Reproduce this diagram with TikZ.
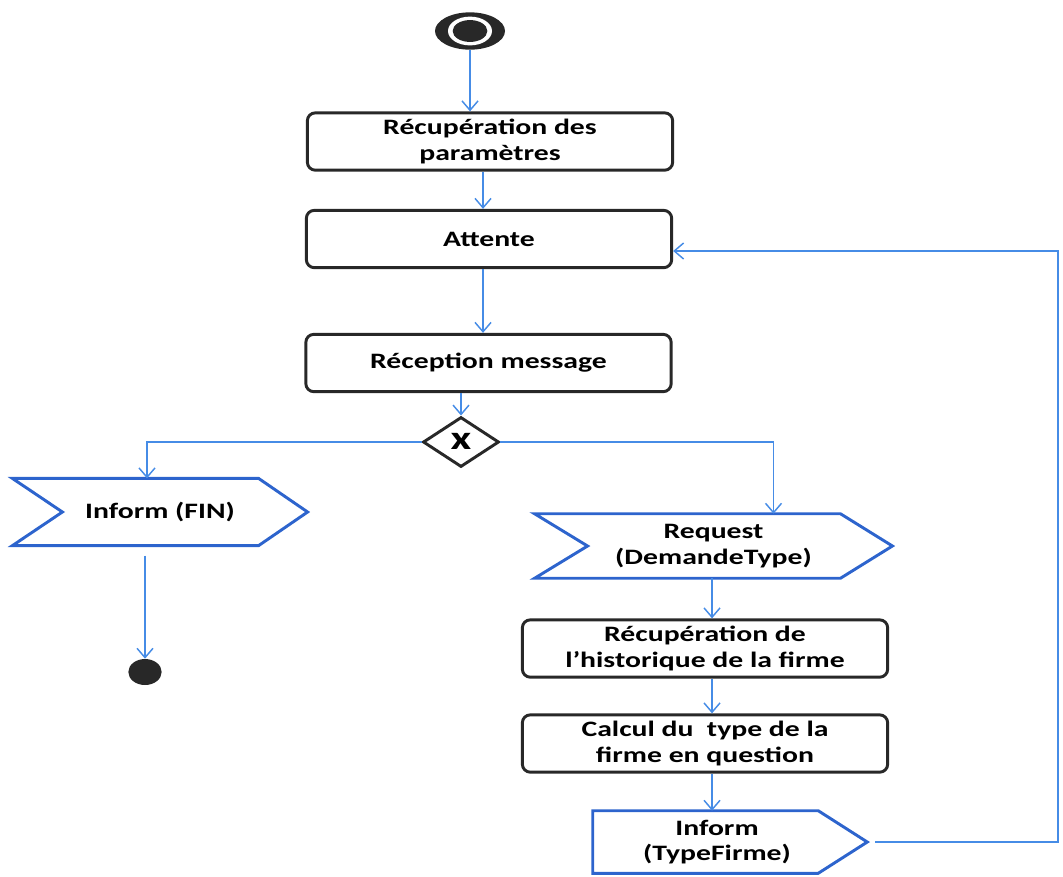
\documentclass[tikz,border=0pt]{standalone}
\usepackage{fontspec}
\setmainfont{Carlito}[FakeStretch=1.35]
\usepackage{tikz}
\usetikzlibrary{arrows.meta,positioning,calc,shapes.geometric}
\definecolor{ink}{RGB}{40,40,40}
\definecolor{lnk}{RGB}{70,140,230}
\definecolor{sig}{RGB}{45,100,205}
\tikzset{
  act/.style={draw=ink,line width=2.2pt,rounded corners=6pt,fill=white,align=center,
    minimum width=274pt,minimum height=43pt,inner sep=2pt},
  sigtxt/.style={align=center,inner sep=0pt},
  sigline/.style={draw=sig,line width=2.2pt,line join=miter},
  arr/.style={-{Straight Barb[length=7pt,width=12pt]},lnk,line width=1.1pt},
  gate/.style={diamond,draw=ink,line width=2.2pt,inner sep=0pt,minimum width=57pt,minimum height=37.5pt,
    font=\fontsize{25}{26}\selectfont\bfseries},
}
\begin{document}
\begin{tikzpicture}[x=0.75pt,y=-0.75pt,font=\fontsize{16.5}{19}\selectfont\bfseries]
  \useasboundingbox (0,0) rectangle (1063,876);
  % start / end
  \node[ellipse,fill=ink,minimum width=52.5pt,minimum height=28pt,inner sep=0pt] (start) at (470,31) {};
  \fill[white] (start.center) ellipse (16.5pt and 10.8pt);
  \fill[ink] (start.center) ellipse (13pt and 8.2pt);
  \node[ellipse,fill=ink,minimum width=25pt,minimum height=19.5pt,inner sep=0pt] (stop) at (145,672) {};
  % main column
  \node[act] (recup) at (490,141.5) {Récupération des\\paramètres};
  \node[act] (att) at (489,239) {Attente};
  \node[act] (recep) at (488.5,363) {Réception message};
  \node[gate] (gw) at (461,442) {\raisebox{1pt}{x}};
  \node[act] (hist) at (705,648.5) {Récupération de\\l’historique de la firme};
  \node[act] (calc) at (705,743.5) {Calcul du\ \ type de la\\firme en question};
  % signals
  \node[sigtxt,minimum width=221pt,minimum height=50pt] (fin) at (160,512) {Inform (FIN)};
  \draw[sigline] (fin.north west) -- ($(fin.north east)+(-49,0)$) -- (fin.east)
    -- ($(fin.south east)+(-49,0)$) -- (fin.south west) -- ($(fin.west)+(50,0)$) -- cycle;
  \node[sigtxt,minimum width=268pt,minimum height=48pt] (req) at (713.5,546) {Request\\(DemandeType)};
  \draw[sigline] (req.north west) -- ($(req.north east)+(-52,0)$) -- (req.east)
    -- ($(req.south east)+(-52,0)$) -- (req.south west) -- ($(req.west)+(53,0)$) -- cycle;
  \node[sigtxt,minimum width=186pt,minimum height=46.5pt] (tf) at (717,842) {Inform\\(TypeFirme)};
  \draw[sigline] (tf.north west) -- ($(tf.north east)+(-23,0)$) -- ($(tf.east)+(26,0)$)
    -- ($(tf.south east)+(-23,0)$) -- (tf.south west) -- cycle;
  % flows
  \draw[arr] (start.south) -- (start.south |- recup.north);
  \draw[arr] (recup.south -| 483,0) -- (att.north -| 483,0);
  \draw[arr] (att.south -| 483,0) -- (recep.north -| 483,0);
  \draw[arr] (gw.north |- recep.south) -- (gw.north);
  \draw[arr] (gw.west) -| ($(fin.north)+(-13,0)$);
  \draw[arr] (gw.east) -| ($(req.north)+(60,0)$);
  \draw[arr] ($(stop.north |- fin.south)+(0,10)$) -- (stop.north);
  \draw[arr] (req.south -| 712,0) -- (hist.north -| 712,0);
  \draw[arr] (hist.south -| 712,0) -- (calc.north -| 712,0);
  \draw[arr] (calc.south -| 712,0) -- (tf.north -| 712,0);
  \coordinate (rt) at (1058,842);
  \draw[arr] ($(tf.east)+(34,0)$) -- (rt) |- ($(att.east)+(0,12)$);
\end{tikzpicture}
\end{document}
